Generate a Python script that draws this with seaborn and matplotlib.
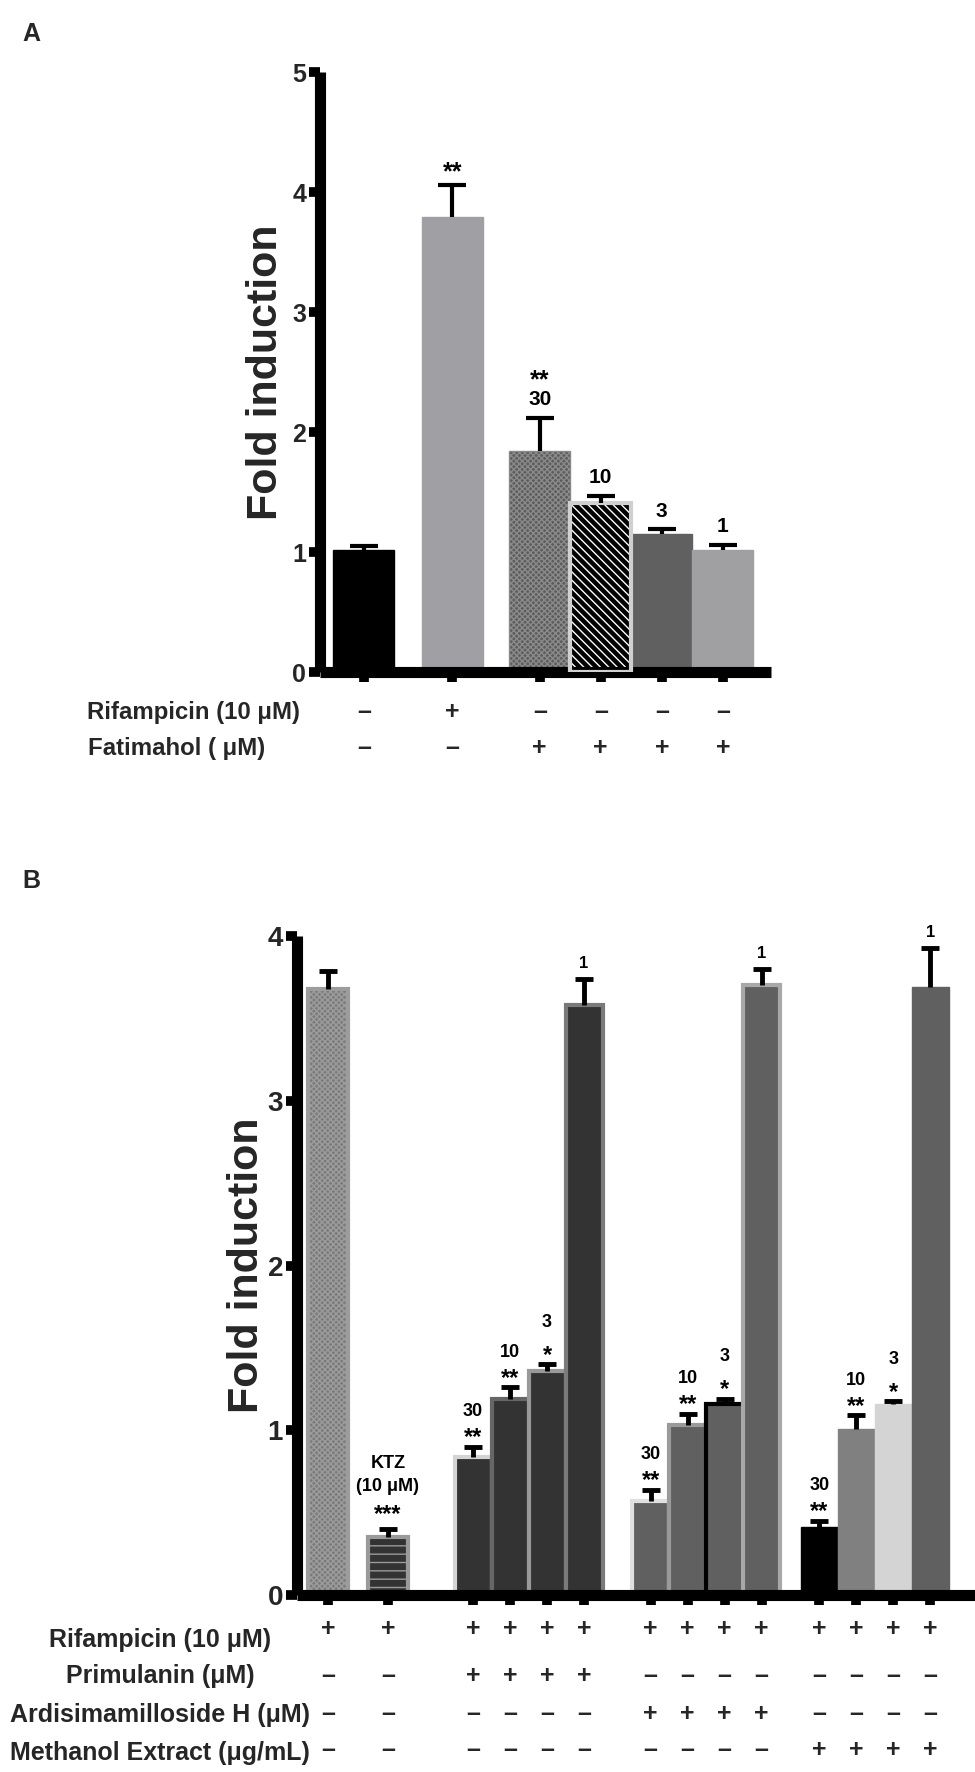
import numpy as np
import pandas as pd
import matplotlib
matplotlib.use("Agg")
import matplotlib.pyplot as plt
import matplotlib.transforms as mtransforms
from matplotlib.patches import Rectangle
import seaborn as sns

sns.set_style("white")
plt.rcParams['font.family'] = ['Liberation Sans', 'DejaVu Sans']
plt.rcParams['font.weight'] = 'bold'
plt.rcParams['hatch.linewidth'] = 1.0

# ---------------- data: panel A ----------------
A_groups = ['Control', 'Rifampicin', 'Fatimahol 30', 'Fatimahol 10', 'Fatimahol 3', 'Fatimahol 1']
A_pos = [0, 1.45, 2.88, 3.88, 4.88, 5.88]
A_mean = [1.02, 3.79, 1.84, 1.41, 1.15, 1.02]
A_sem = [0.03, 0.27, 0.28, 0.06, 0.04, 0.04]
A_face = ['#000000', '#a0a0a4', '#5c5c5c', '#000000', '#606060', '#a0a0a2']
A_rif = ['–', '+', '–', '–', '–', '–']
A_fat = ['–', '–', '+', '+', '+', '+']
A_nums = ['', '', '30', '10', '3', '1']
A_stars = ['', '**', '**', '', '', '']
A_yticks = [0, 1, 2, 3, 4, 5]

# ---------------- data: panel B ----------------
B_groups = ['Rif', 'KTZ', 'Prim 30', 'Prim 10', 'Prim 3', 'Prim 1',
            'Ardi 30', 'Ardi 10', 'Ardi 3', 'Ardi 1',
            'MeOH 30', 'MeOH 10', 'MeOH 3', 'MeOH 1']
B_pos = [0, 1.62, 3.92, 4.92, 5.92, 6.92, 8.72, 9.72, 10.72, 11.72, 13.28, 14.28, 15.28, 16.28]
B_mean = [3.68, 0.35, 0.84, 1.19, 1.36, 3.58, 0.57, 1.03, 1.16, 3.70, 0.41, 1.01, 1.16, 3.69]
B_sem = [0.11, 0.05, 0.06, 0.07, 0.04, 0.16, 0.07, 0.07, 0.03, 0.10, 0.04, 0.08, 0.015, 0.24]
B_face = ['#7a7a7a', '#333333', '#333333', '#333333', '#333333', '#333333',
          '#606060', '#606060', '#606060', '#606060',
          '#000000', '#808080', '#d4d4d4', '#606060']
B_edge = ['#9c9c9c', '#9a9a9a', '#d4d4d4', '#666666', '#999999', '#7a7a7a',
          '#e0e0e0', '#9a9a9a', '#000000', '#a8a8a8',
          '#000000', '#808080', '#d4d4d4', '#606060']
B_rif = ['+'] * 14
B_prim = ['–', '–', '+', '+', '+', '+', '–', '–', '–', '–', '–', '–', '–', '–']
B_ardi = ['–', '–', '–', '–', '–', '–', '+', '+', '+', '+', '–', '–', '–', '–']
B_meth = ['–', '–', '–', '–', '–', '–', '–', '–', '–', '–', '+', '+', '+', '+']
B_nums = ['', '', '30', '10', '3', '1', '30', '10', '3', '1', '30', '10', '3', '1']
B_stars = ['', '***', '**', '**', '*', '', '**', '**', '*', '', '**', '**', '*', '']
B_yticks = [0, 1, 2, 3, 4]

W, H = 975, 1772
fig = plt.figure(figsize=(W / 100, H / 100), dpi=100)


def fy(px):
    return 1 - px / H


def style_axes(ax, tick_fs):
    sns.despine(ax=ax)
    for s in ('left', 'bottom'):
        ax.spines[s].set_linewidth(8)
        ax.spines[s].set_color('black')
        ax.spines[s].set_capstyle('butt')
    ax.tick_params(axis='y', direction='out', length=8, width=7, color='black',
                   labelsize=tick_fs, pad=2, left=True)
    ax.tick_params(axis='x', direction='out', length=7.5, width=7, color='black',
                   labelbottom=False, bottom=True)
    for lab in ax.get_yticklabels():
        lab.set_fontweight('bold')


def annotate(ax, x, y, text, dy_px, fs):
    ax.annotate(text, xy=(x, y), xytext=(0, dy_px * 0.72), textcoords='offset points',
                ha='center', va='center', fontsize=fs, fontweight='bold', color='black',
                zorder=6)


def upper_errorbars(ax, pos, mean, sem, lw, cap):
    cont = ax.errorbar(pos, mean, yerr=[np.zeros(len(mean)), sem], fmt='none',
                       ecolor='black', elinewidth=lw, capsize=cap, capthick=lw, zorder=4)
    for cl in cont[1]:
        if np.allclose(cl.get_ydata(), mean):
            cl.set_visible(False)


# ================= Panel A =================
axA = fig.add_axes([320 / W, fy(672), 451 / W, (672 - 72) / H])
dfA = pd.DataFrame({'pos': A_pos, 'val': A_mean, 'grp': A_groups})
sns.barplot(data=dfA, x='pos', y='val', native_scale=True, width=1.0, errorbar=None,
            color='gray', ax=axA, zorder=2)
barsA = list(axA.patches)
for i, p in enumerate(barsA):
    p.set_facecolor(A_face[i])
    p.set_edgecolor(A_face[i])
    p.set_linewidth(1)
barsA[2].set_hatch('xxxxxx')
barsA[2].set_edgecolor('#8a8a8a')
barsA[3].set_hatch('\\\\\\\\')
barsA[3].set_edgecolor('white')
p = barsA[3]
axA.add_patch(Rectangle((p.get_x(), 0), p.get_width(), p.get_height(), facecolor='none',
                        edgecolor='#d0d0d0', linewidth=3, zorder=3))

upper_errorbars(axA, A_pos, A_mean, A_sem, 3, 10)
axA.set_ylim(0, 5)
axA.set_xlim(-0.72, 6.67)
axA.set_yticks(A_yticks)
axA.set_xticks(A_pos)
axA.set_xlabel('')
axA.set_ylabel('Fold induction', fontsize=31, fontweight='bold', va='center')
axA.yaxis.set_label_coords(-0.12, 0.5)
style_axes(axA, 18)

A_top = [m + s for m, s in zip(A_mean, A_sem)]
for i in range(len(A_pos)):
    if A_nums[i]:
        annotate(axA, A_pos[i], A_top[i], A_nums[i], 18, 15)
    if A_stars[i]:
        off = 37 if A_nums[i] else 12
        annotate(axA, A_pos[i], A_top[i], A_stars[i], off, 18)

trA = mtransforms.blended_transform_factory(axA.transData, fig.transFigure)
for x, s in zip(A_pos, A_rif):
    fig.text(x, fy(712), s, transform=trA, ha='center', va='center', fontsize=18, fontweight='bold')
for x, s in zip(A_pos, A_fat):
    fig.text(x, fy(748), s, transform=trA, ha='center', va='center', fontsize=18, fontweight='bold')
fig.text(87 / W, fy(712), 'Rifampicin (10 μM)', ha='left', va='center', fontsize=17.3, fontweight='bold')
fig.text(88 / W, fy(748), 'Fatimahol ( μM)', ha='left', va='center', fontsize=17.3, fontweight='bold')
fig.text(22 / W, fy(34), 'A', ha='left', va='center', fontsize=18, fontweight='bold')

# ================= Panel B =================
axB = fig.add_axes([297 / W, fy(1595), (975 - 297) / W, (1595 - 936) / H])
dfB = pd.DataFrame({'pos': B_pos, 'val': B_mean, 'grp': B_groups})
sns.barplot(data=dfB, x='pos', y='val', native_scale=True, width=1.0, errorbar=None,
            color='gray', ax=axB, zorder=2)
barsB = list(axB.patches)
for i, p in enumerate(barsB):
    p.set_facecolor(B_face[i])
    p.set_edgecolor(B_edge[i])
    p.set_linewidth(3 if B_edge[i] != B_face[i] else 1)
for i in (0, 1):
    p = barsB[i]
    c = p.get_x() + p.get_width() / 2
    p.set_width(1.08)
    p.set_x(c - 0.54)
barsB[0].set_hatch('xxxxxx')
barsB[1].set_hatch('--')

upper_errorbars(axB, B_pos, B_mean, B_sem, 3.5, 6.5)
axB.set_ylim(0, 4)
axB.set_xlim(-0.84, 17.49)
axB.set_yticks(B_yticks)
axB.set_xticks(B_pos)
axB.set_xlabel('')
axB.set_ylabel('Fold induction', fontsize=31, fontweight='bold', va='center')
axB.yaxis.set_label_coords(-0.074, 0.5)
style_axes(axB, 20)

B_top = [m + s for m, s in zip(B_mean, B_sem)]
for i in range(len(B_pos)):
    n, st = B_nums[i], B_stars[i]
    if i == 1:
        annotate(axB, B_pos[i], B_top[i], st, 15, 17)
        annotate(axB, B_pos[i], B_top[i], '(10 μM)', 43, 13)
        annotate(axB, B_pos[i], B_top[i], 'KTZ', 66, 13)
        continue
    if st:
        annotate(axB, B_pos[i], B_top[i], st, 9, 17)
        off = 42 if st == '*' else 35
        annotate(axB, B_pos[i], B_top[i], n, off, 13)
    elif n:
        annotate(axB, B_pos[i], B_top[i], n, 15, 12)

trB = mtransforms.blended_transform_factory(axB.transData, fig.transFigure)
rows = [(B_rif, 1629), (B_prim, 1676), (B_ardi, 1714), (B_meth, 1750)]
for syms, ypx in rows:
    for x, s in zip(B_pos, syms):
        fig.text(x, fy(ypx), s, transform=trB, ha='center', va='center', fontsize=18, fontweight='bold')
labelsB = [('Rifampicin (10 μM)', 1640), ('Primulanin (μM)', 1676),
           ('Ardisimamilloside H (μM)', 1715), ('Methanol Extract (μg/mL)', 1753)]
for txt, ypx in labelsB:
    fig.text(160 / W, fy(ypx), txt, ha='center', va='center', fontsize=18, fontweight='bold')
fig.text(22 / W, fy(881), 'B', ha='left', va='center', fontsize=18, fontweight='bold')

fig.savefig('out.png', dpi=100, facecolor='white')
